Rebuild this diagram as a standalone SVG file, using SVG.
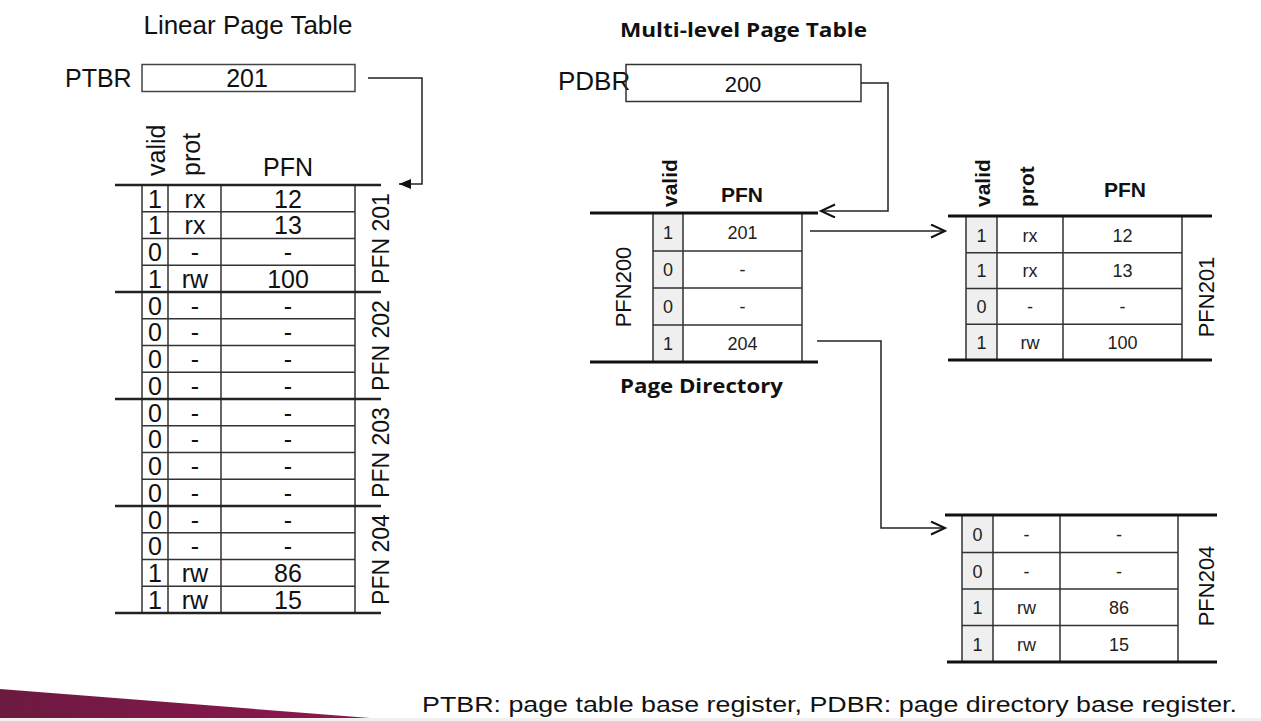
<svg xmlns="http://www.w3.org/2000/svg" width="1261" height="721" viewBox="0 0 1261 721">
<defs>
<style>
.t{font-family:"Liberation Sans",Arial,sans-serif;fill:#111}
.os{font-family:"Open Sans","Liberation Sans",sans-serif;font-weight:bold}
.lt{font-size:25px}
.c{text-anchor:middle}
.rt{font-size:18px;fill:#222}
.b{font-weight:bold}
.thin{stroke:#333;stroke-width:1.5;fill:none}
.thick{stroke:#111;stroke-width:3;fill:none}
.lthick{stroke:#222;stroke-width:2.5;fill:none}
.conn{stroke:#222;stroke-width:1.5;fill:none}
.vc{fill:#efefef}
</style>
<marker id="fill" markerUnits="userSpaceOnUse" markerWidth="14" markerHeight="12" refX="12" refY="5" orient="auto">
<path d="M0,0 L12,5 L0,10 Z" fill="#111"/>
</marker>
<marker id="open" markerUnits="userSpaceOnUse" markerWidth="18" markerHeight="16" refX="15" refY="7" orient="auto">
<path d="M1,0.5 L15,7 L1,13.5" fill="none" stroke="#111" stroke-width="2"/>
</marker>
<linearGradient id="mg" x1="0" x2="1" y1="0" y2="0">
<stop offset="0" stop-color="#6c1a40"/>
<stop offset="1" stop-color="#8e1750"/>
</linearGradient>
</defs>
<rect width="1261" height="721" fill="#fff"/>

<!-- Linear page table -->
<g id="linear-title"><text class="t" x="248" y="34" font-size="26" text-anchor="middle">Linear Page Table</text></g>
<g id="ptbr">
<text class="t" x="65" y="87" font-size="25">PTBR</text>
<rect x="142" y="64.5" width="213" height="27" fill="#fff" stroke="#444" stroke-width="1.5"/>
<text class="t c" x="247" y="87" font-size="25">201</text>
</g>
<g id="linear-table">
<text class="t lt" transform="translate(165,176) rotate(-90)">valid</text>
<text class="t lt" transform="translate(200,176) rotate(-90)">prot</text>
<text class="t lt c" x="288" y="176">PFN</text>
<g class="thin">
<path d="M142,185V613M168,185V613M221,185V613M355,185V613"/>
<path d="M142,211.75H355M142,238.5H355M142,265.25H355M142,318.75H355M142,345.5H355M142,372.25H355M142,425.75H355M142,452.5H355M142,479.25H355M142,532.75H355M142,559.5H355M142,586.25H355"/>
</g>
<path class="lthick" d="M115,185H381M115,292H381M115,399H381M115,506H381M115,613H381"/>
<g class="t lt c">
<text x="155" y="207.5">1</text><text x="195" y="207.5">rx</text><text x="288" y="207.5">12</text>
<text x="155" y="234.25">1</text><text x="195" y="234.25">rx</text><text x="288" y="234.25">13</text>
<text x="155" y="261">0</text><text x="195" y="261">-</text><text x="288" y="261">-</text>
<text x="155" y="287.75">1</text><text x="195" y="287.75">rw</text><text x="288" y="287.75">100</text>
<text x="155" y="314.5">0</text><text x="195" y="314.5">-</text><text x="288" y="314.5">-</text>
<text x="155" y="341.25">0</text><text x="195" y="341.25">-</text><text x="288" y="341.25">-</text>
<text x="155" y="368">0</text><text x="195" y="368">-</text><text x="288" y="368">-</text>
<text x="155" y="394.75">0</text><text x="195" y="394.75">-</text><text x="288" y="394.75">-</text>
<text x="155" y="421.5">0</text><text x="195" y="421.5">-</text><text x="288" y="421.5">-</text>
<text x="155" y="448.25">0</text><text x="195" y="448.25">-</text><text x="288" y="448.25">-</text>
<text x="155" y="475">0</text><text x="195" y="475">-</text><text x="288" y="475">-</text>
<text x="155" y="501.75">0</text><text x="195" y="501.75">-</text><text x="288" y="501.75">-</text>
<text x="155" y="528.5">0</text><text x="195" y="528.5">-</text><text x="288" y="528.5">-</text>
<text x="155" y="555.25">0</text><text x="195" y="555.25">-</text><text x="288" y="555.25">-</text>
<text x="155" y="582">1</text><text x="195" y="582">rw</text><text x="288" y="582">86</text>
<text x="155" y="608.75">1</text><text x="195" y="608.75">rw</text><text x="288" y="608.75">15</text>
</g>
<g class="t c" font-size="23">
<text transform="translate(389,238.5) rotate(-90)">PFN 201</text>
<text transform="translate(389,345.5) rotate(-90)">PFN 202</text>
<text transform="translate(389,452.5) rotate(-90)">PFN 203</text>
<text transform="translate(389,559.5) rotate(-90)">PFN 204</text>
</g>
</g>

<!-- Multi-level page table -->
<g id="ml-title"><text class="t os" x="620" y="37" font-size="20" textLength="247" lengthAdjust="spacingAndGlyphs">Multi-level Page Table</text></g>
<g id="pdbr">
<text class="t" x="558" y="90" font-size="26">PDBR</text>
<rect x="626" y="64.5" width="235" height="37" fill="none" stroke="#333" stroke-width="1.5"/>
<text class="t c" x="743" y="92" font-size="22" fill="#222">200</text>
</g>
<g id="page-directory">
<text class="t b" transform="translate(677,207) rotate(-90)" font-size="21">valid</text>
<text class="t b c" x="742" y="202" font-size="21">PFN</text>
<rect class="vc" x="653" y="214" width="30" height="148"/>
<g class="thin">
<path d="M653,214V362M683,214V362M802,214V362"/>
<path d="M653,251H802M653,288H802M653,325H802"/>
</g>
<path class="thick" d="M590,213H818M590,362H818"/>
<g class="t rt c">
<text x="668" y="239">1</text><text x="742.5" y="239">201</text>
<text x="668" y="276">0</text><text x="742.5" y="276">-</text>
<text x="668" y="313">0</text><text x="742.5" y="313">-</text>
<text x="668" y="350">1</text><text x="742.5" y="350">204</text>
</g>
<text class="t c" transform="translate(631,287) rotate(-90)" font-size="22" fill="#222">PFN200</text>
<text class="t os" x="620" y="393" font-size="20" textLength="163" lengthAdjust="spacingAndGlyphs">Page Directory</text>
</g>
<g id="pt-pfn201">
<text class="t b" transform="translate(990,207) rotate(-90)" font-size="21">valid</text>
<text class="t b" transform="translate(1034,207) rotate(-90)" font-size="21">prot</text>
<text class="t b c" x="1125" y="197" font-size="21">PFN</text>
<rect class="vc" x="966" y="217" width="31" height="143"/>
<g class="thin">
<path d="M966,217V360M997,217V360M1063,217V360M1182,217V360"/>
<path d="M966,252.75H1182M966,288.5H1182M966,324.25H1182"/>
</g>
<path class="thick" d="M948,216H1212M948,360H1212"/>
<g class="t rt c">
<text x="981.5" y="241.5">1</text><text x="1030" y="241.5">rx</text><text x="1122.5" y="241.5">12</text>
<text x="981.5" y="277.25">1</text><text x="1030" y="277.25">rx</text><text x="1122.5" y="277.25">13</text>
<text x="981.5" y="313">0</text><text x="1030" y="313">-</text><text x="1122.5" y="313">-</text>
<text x="981.5" y="348.75">1</text><text x="1030" y="348.75">rw</text><text x="1122.5" y="348.75">100</text>
</g>
<text class="t c" transform="translate(1214,297) rotate(-90)" font-size="22" fill="#222">PFN201</text>
</g>
<g id="pt-pfn204">
<rect class="vc" x="962" y="516" width="31" height="146"/>
<g class="thin">
<path d="M962,516V662M993,516V662M1060,516V662M1178,516V662"/>
<path d="M962,552.5H1178M962,589H1178M962,625.5H1178"/>
</g>
<path class="thick" d="M945,515H1217M947,662H1217"/>
<g class="t rt c">
<text x="977.5" y="541">0</text><text x="1026.5" y="541">-</text><text x="1119" y="541">-</text>
<text x="977.5" y="577.5">0</text><text x="1026.5" y="577.5">-</text><text x="1119" y="577.5">-</text>
<text x="977.5" y="614">1</text><text x="1026.5" y="614">rw</text><text x="1119" y="614">86</text>
<text x="977.5" y="650.5">1</text><text x="1026.5" y="650.5">rw</text><text x="1119" y="650.5">15</text>
</g>
<text class="t c" transform="translate(1214,586) rotate(-90)" font-size="22" fill="#222">PFN204</text>
</g>

<g id="connectors">
<path class="conn" d="M368,78H422V184H399" marker-end="url(#fill)"/>
<path class="conn" d="M861,83H888V211H821" marker-end="url(#open)"/>
<path class="conn" d="M810,231H945" marker-end="url(#open)"/>
<path class="conn" d="M817,341H881V528H945" marker-end="url(#open)"/>
</g>

<g id="footer">
<polygon points="0,689 370,718 0,718" fill="url(#mg)"/>
<rect x="0" y="718" width="1261" height="3" fill="#f0f0f0"/>
<text class="t" x="422" y="712" font-size="22" textLength="815" lengthAdjust="spacingAndGlyphs">PTBR: page table base register, PDBR: page directory base register.</text>
</g>
</svg>
